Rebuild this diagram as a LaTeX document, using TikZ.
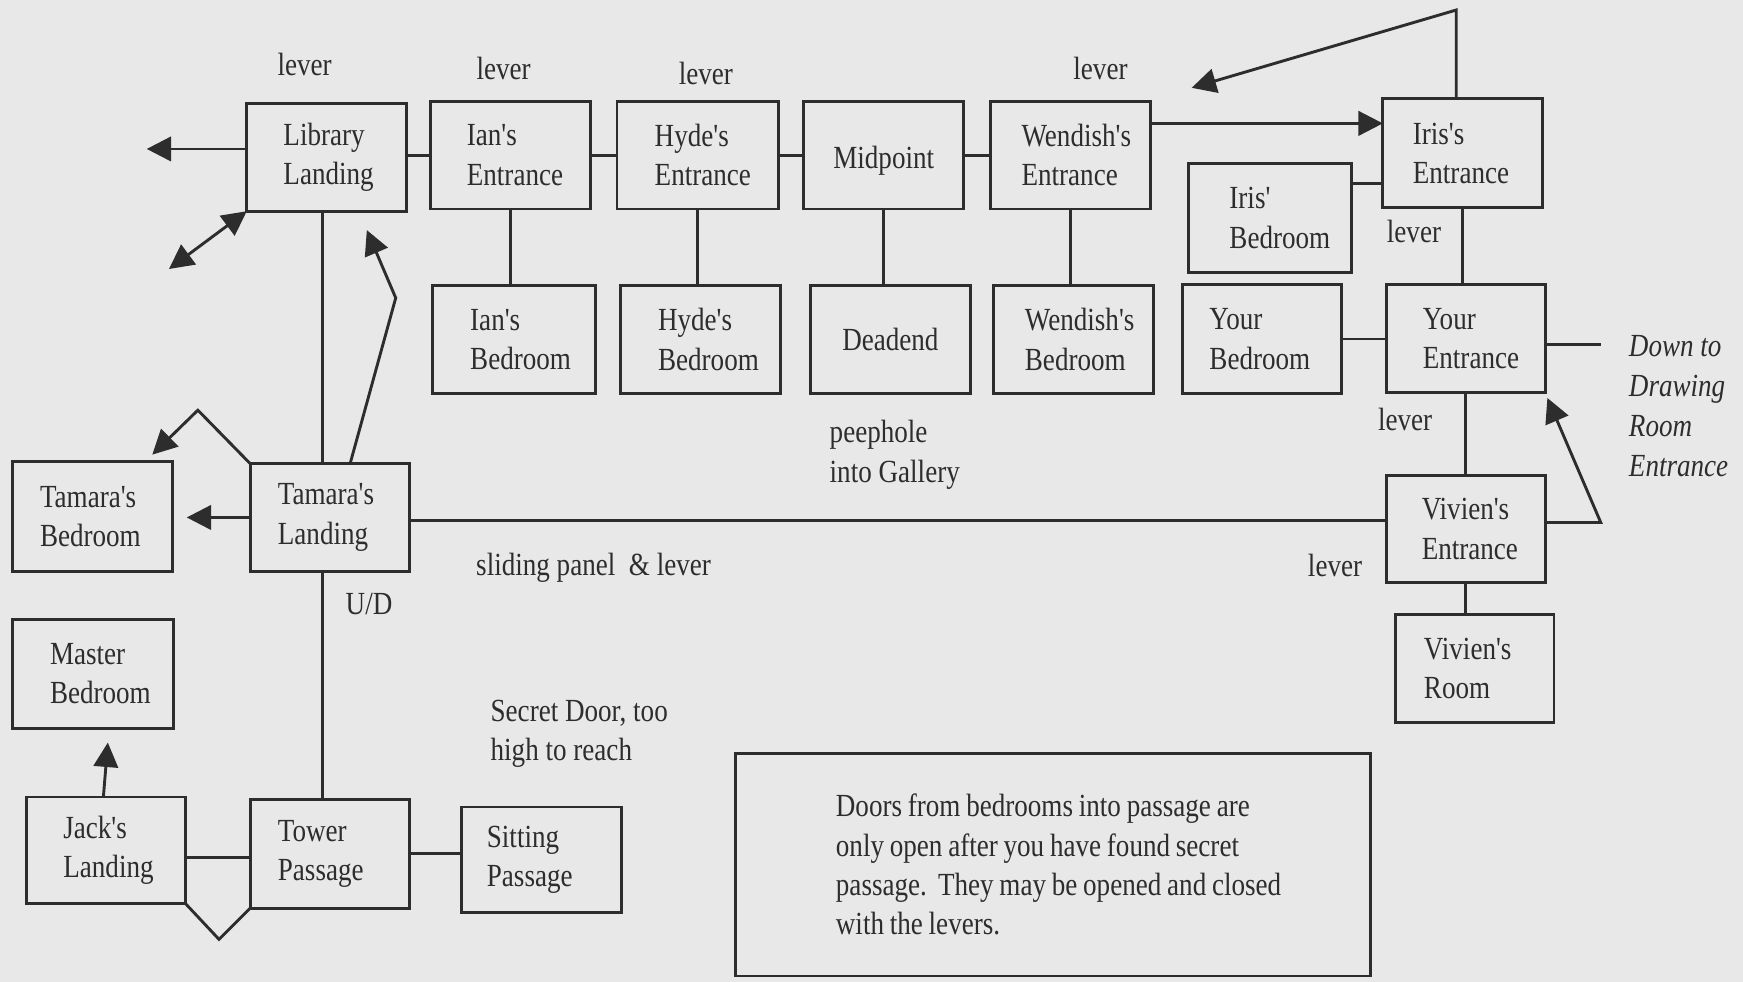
\documentclass[tikz,border=0pt]{standalone}
\usepackage{fontspec}
\setmainfont{Liberation Serif}[FakeStretch=0.84, Ligatures=TeXOff]
\usetikzlibrary{arrows.meta}
\definecolor{bg}{RGB}{232,232,232}
\definecolor{ink}{RGB}{45,45,45}
\hyphenpenalty=10000
\exhyphenpenalty=10000
\begin{document}
\begin{tikzpicture}[x=0.5pt,y=-0.5pt,
  every node/.style={text=ink, font=\fontsize{14.5}{17.7}\selectfont},
  room/.style={draw=ink, line width=1.3pt, anchor=north west, inner ysep=0pt, align=left, outer sep=0pt},
  lbl/.style={inner sep=0pt},
  link/.style={draw=ink, line width=1.3pt},
  arr/.style={link, -{Triangle[length=11pt,width=11pt]}},
  darr/.style={link, {Triangle[length=11pt,width=11pt]}-{Triangle[length=11pt,width=11pt]}}
]
\fill[bg] (0,0) rectangle (1568,883);
\useasboundingbox (0,0) rectangle (1568,883);

% top row
\node[room, minimum width=72pt, minimum height=48.5pt, inner xsep=16.5pt, text width=39pt] (lib) at (222,93) {Library\\Landing};
\node[room, minimum width=72pt, minimum height=48.5pt, inner xsep=16.5pt, text width=39pt] (ianE) at (387,91) {Ian's\\Entrance};
\node[room, minimum width=72.5pt, minimum height=48.5pt, inner xsep=17pt, text width=38.5pt] (hydeE) at (555,91) {Hyde's\\Entrance};
\node[room, minimum width=72pt, minimum height=48.5pt, inner xsep=4pt, text width=64pt, align=center, text height=15pt, text depth=3pt] (mid) at (723,91) {Midpoint};
\node[room, minimum width=72pt, minimum height=48.5pt, inner xsep=14pt, text width=44pt] (wenE) at (891,91) {Wendish's\\Entrance};
\node[room, minimum width=72pt, minimum height=49pt, inner xsep=13.5pt, text width=45pt] (irisE) at (1244,89) {Iris's\\Entrance};
\node[room, minimum width=73.5pt, minimum height=49pt, inner xsep=18.5pt, text width=36.5pt] (irisB) at (1069,147) {Iris'\\Bedroom};

% second row
\node[room, minimum width=73.5pt, minimum height=48.5pt, inner xsep=17pt, text width=39.5pt] (ianB) at (389,257) {Ian's\\Bedroom};
\node[room, minimum width=72pt, minimum height=48.5pt, inner xsep=17pt, text width=38pt] (hydeB) at (558,257) {Hyde's\\Bedroom};
\node[room, minimum width=72pt, minimum height=48.5pt, inner xsep=4pt, text width=64pt, align=center, text height=12.5pt, text depth=3pt] (dead) at (729,257) {Deadend};
\node[room, minimum width=72pt, minimum height=48.5pt, inner xsep=14pt, text width=44pt] (wenB) at (894,257) {Wendish's\\Bedroom};
\node[room, minimum width=71.5pt, minimum height=49pt, inner xsep=12pt, text width=47.5pt] (yourB) at (1064,256) {Your\\Bedroom};
\node[room, minimum width=71.5pt, minimum height=48.5pt, inner xsep=16.5pt, text width=38.5pt] (yourE) at (1247,256) {Your\\Entrance};

% middle / lower
\node[room, minimum width=72pt, minimum height=49.5pt, inner xsep=12.5pt, text width=47pt] (tamB) at (11,415) {Tamara's\\Bedroom};
\node[room, minimum width=71.5pt, minimum height=48.5pt, inner xsep=12.5pt, text width=46.5pt] (tamL) at (225,417) {Tamara's\\Landing};
\node[room, minimum width=71.5pt, minimum height=48pt, inner xsep=16pt, text width=39.5pt] (vivE) at (1247,428) {Vivien's\\Entrance};
\node[room, minimum width=71.5pt, minimum height=48.5pt, inner xsep=13pt, text width=45.5pt] (vivR) at (1255,553) {Vivien's\\Room};
\node[room, minimum width=72.5pt, minimum height=49pt, inner xsep=17pt, text width=38.5pt] (master) at (11,557) {Master\\Bedroom};
\node[room, minimum width=71.5pt, minimum height=48pt, inner xsep=16.5pt, text width=38.5pt] (jack) at (24,717) {Jack's\\Landing};
\node[room, minimum width=71.5pt, minimum height=49pt, inner xsep=12.5pt, text width=46.5pt] (tower) at (225,719) {Tower\\Passage};
\node[room, minimum width=72pt, minimum height=47.5pt, inner xsep=11.5pt, text width=49pt] (sit) at (415,726) {Sitting\\Passage};

\node[room, minimum width=285.5pt, minimum height=100pt, inner xsep=45pt, text width=195.5pt] (note) at (662,678)
  {\spaceskip=2.6pt plus 1pt\relax
   \mbox{Doors from bedrooms into passage are}\\\mbox{only open after you have found secret}\\\mbox{passage.\hspace{5pt}They may be opened and closed}\\\mbox{with the levers.}};

% free labels
\node[lbl] (lv1) at (274,58) {lever};
\node[lbl] (lv2) at (453,62) {lever};
\node[lbl] (lv3) at (635,66) {lever};
\node[lbl] (lv4) at (990,62) {lever};
\node[lbl] (lv5) at (1272,208) {lever};
\node[lbl] (lv6) at (1264,377) {lever};
\node[lbl] (lv7) at (1201,509) {lever};
\node[lbl] (ud) at (332,543) {U/D};
\node[lbl, anchor=west, align=left] (peep) at (746,409) {peephole\\into Gallery};
\node[lbl, anchor=west] (slide) at (428,511) {sliding panel\ \ \& lever};
\node[lbl, anchor=west, align=left] (secret) at (441,660) {Secret Door, too\\high to reach};
\node[lbl, anchor=west, align=left, font=\itshape\fontsize{14.5}{18}\selectfont] (down) at (1465,365) {Down to\\Drawing\\Room\\Entrance};

% free ends
\coordinate (libW) at (132,134);
\coordinate (libSW) at (152,242);
\coordinate (bendA) at (356,268);
\coordinate (tipA) at (330,207);
\coordinate (peakT) at (178,369);
\coordinate (tipT) at (137,409);
\coordinate (tipJ) at (97,668);
\coordinate (vBot) at (197,845);
\coordinate (irisTop) at (1310,9);
\coordinate (tipI) at (1072,79);
\coordinate (yourR) at (1440,310);
\coordinate (vivR1) at (1440,470);
\coordinate (tipV) at (1392,358);

% connectors top row
\draw[arr] (lib.west |- libW) -- (libW);
\draw[darr] (lib.south west) -- (libSW);
\draw[link] (ianE.west -| lib.east) -- (ianE.west);
\draw[link] (ianE.east) -- (hydeE.west);
\draw[link] (hydeE.east) -- (mid.west);
\draw[link] (mid.east) -- (wenE.west);
\draw[arr] (wenE.east |- 0,111) -- (irisE.west |- 0,111);
\draw[arr] (irisTop |- irisE.north) -- (irisTop) -- (tipI);
\draw[link] (irisB.east |- 0,165) -- (irisE.west |- 0,165);
\draw[link] (ianE.south) -- (ianE.south |- ianB.north);
\draw[link] (hydeE.south) -- (hydeE.south |- hydeB.north);
\draw[link] (mid.south) -- (mid.south |- dead.north);
\draw[link] (wenE.south) -- (wenE.south |- wenB.north);
\draw[link] (irisE.south) -- (irisE.south |- yourE.north);
\draw[link] (yourB.east) -- (yourB.east -| yourE.west);
\draw[link] (yourE.east |- yourR) -- (yourR);
\draw[link] (yourE.south) -- (vivE.north);
\draw[arr] (vivE.east |- vivR1) -- (vivR1) -- (tipV);
\draw[link] (vivE.south) -- (vivE.south |- vivR.north);

% left side
\draw[link] (290,0 |- lib.south) -- (290,0 |- tamL.north);
\draw[arr] (315,0 |- tamL.north) -- (bendA) -- (tipA);
\draw[arr, shorten >=6.5pt] (tamL.west) -- (tamL.west -| tamB.east);
\draw[arr] (tamL.north west) -- (peakT) -- (tipT);
\draw[link] (tamL.east |- 0,468) -- (vivE.west |- 0,468);
\draw[link] (290,0 |- tamL.south) -- (290,0 |- tower.north);
\draw[arr] (93,0 |- jack.north) -- (tipJ);
\draw[link] (jack.east |- 0,771) -- (tower.west |- 0,771);
\draw[link] (jack.south east) -- (vBot) -- (tower.south west);
\draw[link] (tower.east) -- (tower.east -| sit.west);
\end{tikzpicture}
\end{document}
